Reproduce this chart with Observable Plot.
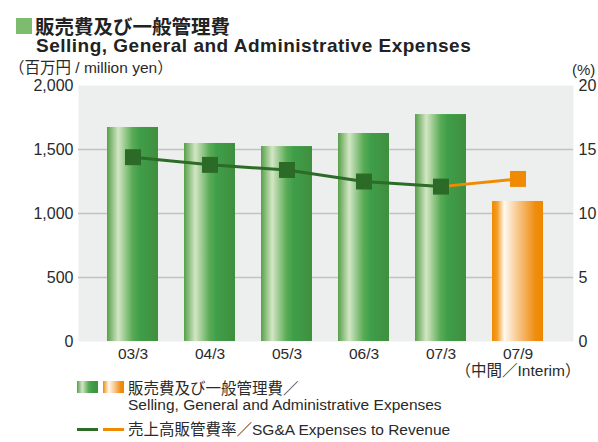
<!DOCTYPE html>
<html>
<head>
<meta charset="utf-8">
<script src="https://cdn.jsdelivr.net/npm/d3@7"></script>
<script src="https://cdn.jsdelivr.net/npm/@observablehq/plot@0.6"></script>
<style>
  html, body { margin: 0; padding: 0; background: #fff; }
  body { width: 598px; height: 442px; overflow: hidden; font-family: "Liberation Sans", "Noto Sans CJK JP", sans-serif; color: #2a2a2a; }
  #wrap { position: relative; width: 598px; height: 442px; }
  .abs { position: absolute; white-space: nowrap; }
  #plot { position: absolute; left: 0; top: 60px; }
  .t1 { left: 35px; top: 16px; font-size: 19.5px; line-height: 19px; font-weight: bold; font-family: "Noto Sans CJK JP", sans-serif; color: #222; }
  .t2 { left: 36px; top: 36px; font-size: 19px; line-height: 19px; font-weight: bold; letter-spacing: 0.5px; color: #222; }
  .sq { left: 16px; top: 18px; width: 16px; height: 16px; background: #7dbb6e; }
  .unit { left: 9px; top: 60px; font-size: 15.5px; line-height: 16px; }
  .pct { left: 572px; top: 62px; font-size: 15px; line-height: 15px; }
  .sw { position: absolute; width: 21px; height: 12px; }
  .ln { position: absolute; width: 21px; height: 3px; }
  .lg { font-size: 15.5px; line-height: 16px; }
</style>
</head>
<body>
<div id="wrap">
  <div class="abs sq"></div>
  <div class="abs t1">販売費及び一般管理費</div>
  <div class="abs t2">Selling, General and Administrative Expenses</div>
  <div class="abs unit">（百万円 / million yen）</div>
  <div class="abs pct">(%)</div>
  <div id="plot"></div>
  <div class="sw" style="left:77px; top:381px; background: linear-gradient(to right, #56a04a 0%, #d3e6c4 25%, #5aab55 55%, #3f9e4a 70%, #3f8f3e 100%);"></div>
  <div class="sw" style="left:103px; top:381px; background: linear-gradient(to right, #f08a00 0%, #fffaf0 28%, #f8c88e 55%, #f08c10 85%, #ee8800 100%);"></div>
  <div class="abs lg" style="left:128px; top:381px;">販売費及び一般管理費／</div>
  <div class="abs lg" style="left:128px; top:397px;">Selling, General and Administrative Expenses</div>
  <div class="ln" style="left:77px; top:428px; background:#2d6b28;"></div>
  <div class="ln" style="left:103px; top:428px; background:#f08a00;"></div>
  <div class="abs lg" style="left:128px; top:422px;">売上高販管費率／SG&amp;A Expenses to Revenue</div>
</div>
<script>
const categories = ["03/3", "04/3", "05/3", "06/3", "07/3", "07/9"];
const expenses = [1672, 1547, 1523, 1625, 1773, 1094];   // million yen
const ratio = [14.4, 13.8, 13.4, 12.5, 12.1, 12.7];       // %
const interim = [false, false, false, false, false, true];
const leftTicks = [0, 500, 1000, 1500, 2000];
const rightTicks = [0, 5, 10, 15, 20];
const interimNote = "（中間／Interim）";

const data = categories.map((c, i) => ({cat: c, value: expenses[i], ratio: ratio[i], interim: interim[i]}));
const annual = data.filter(d => !d.interim);
const lastTwo = data.slice(-2);
const interimPts = data.filter(d => d.interim);
// right axis (0-20%) maps onto left axis (0-2000): factor 100
const k = 100;

const defs = () => {
  const g = document.createElementNS("http://www.w3.org/2000/svg", "g");
  g.innerHTML = `<defs>
    <linearGradient id="gGreen" x1="0" x2="1" y1="0" y2="0">
      <stop offset="0" stop-color="#56a04a"/>
      <stop offset="0.22" stop-color="#d3e6c4"/>
      <stop offset="0.5" stop-color="#5aab55"/>
      <stop offset="0.64" stop-color="#3f9e4a"/>
      <stop offset="1" stop-color="#3f8f3e"/>
    </linearGradient>
    <linearGradient id="gOrange" x1="0" x2="1" y1="0" y2="0">
      <stop offset="0" stop-color="#f08a00"/>
      <stop offset="0.1" stop-color="#f39c25"/>
      <stop offset="0.24" stop-color="#fffaf2"/>
      <stop offset="0.5" stop-color="#f8c88e"/>
      <stop offset="0.85" stop-color="#f08c10"/>
      <stop offset="1" stop-color="#ee8800"/>
    </linearGradient></defs>`;
  return g;
};

const chart = Plot.plot({
  width: 598,
  height: 320,
  marginLeft: 78,
  marginRight: 25,
  marginTop: 25,
  marginBottom: 39,
  style: {fontFamily: '"Liberation Sans", "Noto Sans CJK JP", sans-serif', fontSize: "15.5px", color: "#2a2a2a", background: "transparent"},
  x: {type: "band", domain: categories, range: [93, 557], paddingInner: 0.34, paddingOuter: 0.17, label: null},
  y: {domain: [0, 2000], label: null},
  marks: [
    defs,
    Plot.frame({fill: "#edefee", stroke: null}),
    Plot.gridY([500, 1000, 1500], {stroke: "#c2c2c2", strokeOpacity: 1, strokeWidth: 1.5}),
    Plot.barY(annual, {x: "cat", y: "value", fill: "url(#gGreen)"}),
    Plot.barY(interimPts, {x: "cat", y: "value", fill: "url(#gOrange)"}),
    Plot.line(lastTwo, {x: "cat", y: d => d.ratio * k, stroke: "#f08a00", strokeWidth: 3}),
    Plot.line(annual, {x: "cat", y: d => d.ratio * k, stroke: "#2d6b28", strokeWidth: 3}),
    Plot.dot(annual, {x: "cat", y: d => d.ratio * k, symbol: "square", r: 9, fill: "#2b6a27", stroke: null}),
    Plot.dot(interimPts, {x: "cat", y: d => d.ratio * k, symbol: "square", r: 9, fill: "#f08a00", stroke: null}),
    Plot.axisY(leftTicks, {anchor: "left", tickSize: 0, tickPadding: 5, tickFormat: d3.format(","), fontSize: 16}),
    Plot.axisY(rightTicks.map(t => t * k), {anchor: "right", tickSize: 0, tickPadding: 5, tickFormat: d => d / k, fontSize: 16}),
    Plot.axisX({tickSize: 0, tickPadding: 6, fontSize: 15.5}),
    Plot.text(interimPts, {x: "cat", text: () => interimNote, frameAnchor: "bottom", dy: 34, fontSize: 15.5})
  ]
});
document.getElementById("plot").appendChild(chart);
</script>
</body>
</html>
